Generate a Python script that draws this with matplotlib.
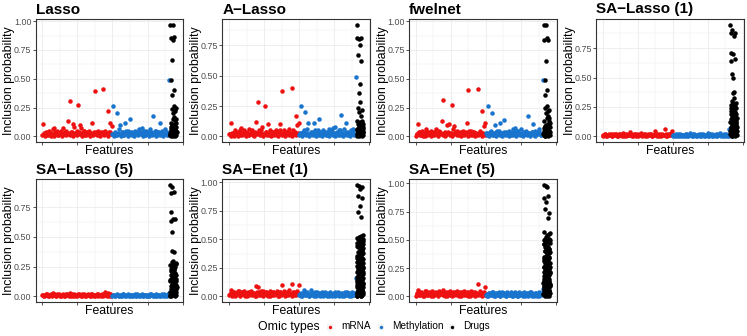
import numpy as np
import matplotlib.pyplot as plt
from matplotlib.patches import Rectangle
from matplotlib.ticker import MultipleLocator, FormatStrFormatter

plt.rcParams['font.family'] = ['Liberation Sans', 'DejaVu Sans']

# number of features in each omic block (feature index runs mRNA -> methylation -> drugs)
N_MRNA = 2000
N_METH = 1640
N_DRUG = 190

titles = ["Lasso", "A\u2212Lasso", "fwelnet", "SA\u2212Lasso (1)",
          "SA\u2212Lasso (5)", "SA\u2212Enet (1)", "SA\u2212Enet (5)"]
omic_names = ["mRNA", "Methylation", "Drugs"]
omic_colors = ["#EE1111", "#1874CD", "#000000"]

# inclusion probabilities (in %), a thinned sample of each block
lasso_mrna = [11, 2, 4, 1, 5, 3, 0, 6, 7, 2, 5, 1, 3, 4, 7, 2, 5, 3, 13, 31,
              4, 11, 8, 2, 5, 27, 10, 7, 3, 5, 1, 4, 3, 5, 2, 12, 4, 39, 3, 5,
              1, 4, 3, 41, 5, 2, 22, 4, 12, 9]
lasso_meth = [26, 3, 1, 20, 6, 10, 2, 4, 1, 12, 3, 5, 15, 2, 4, 1, 5, 3, 2, 6,
              4, 7, 3, 1, 5, 2, 4, 6, 3, 18, 2, 5, 1, 4, 12, 3, 5, 2, 6, 4, 1, 49]
lasso_drug = [3, 97, 1, 12, 85, 5, 0, 49, 8, 24, 2, 36, 10, 66, 4, 20, 97, 6, 15, 84,
              1, 40, 9, 26, 3, 17, 86, 7, 22, 0, 14, 11, 2, 25, 5, 15, 8, 1, 12, 4]

alasso_mrna = [2, 11, 3, 0, 5, 2, 4, 1, 7, 3, 5, 2, 4, 1, 6, 3, 5, 2, 4, 12,
               28, 3, 5, 8, 2, 25, 4, 10, 1, 5, 3, 4, 2, 5, 1, 4, 10, 37, 3, 5,
               2, 4, 6, 3, 40, 5, 2, 17, 9, 11]
alasso_meth = [3, 25, 2, 5, 20, 6, 11, 1, 4, 2, 11, 5, 3, 1, 14, 4, 2, 5, 3, 1,
               4, 6, 2, 5, 7, 3, 8, 4, 1, 5, 18, 3, 6, 2, 11, 4, 1, 5, 3, 6, 2, 49]
alasso_drug = [2, 92, 6, 13, 81, 1, 67, 10, 23, 4, 80, 0, 36, 8, 20, 3, 75, 12, 43, 5,
               28, 1, 62, 9, 17, 3, 81, 7, 22, 0, 13, 11, 2, 6, 10, 4, 1, 8]

fwel_mrna = [2, 11, 4, 1, 5, 3, 0, 6, 4, 2, 5, 1, 3, 4, 6, 2, 5, 3, 13, 32,
             4, 2, 10, 11, 3, 27, 6, 9, 3, 5, 1, 4, 3, 5, 2, 4, 12, 40, 3, 5,
             1, 4, 3, 2, 41, 5, 3, 22, 9, 12]
fwel_meth = [3, 26, 2, 5, 20, 1, 10, 4, 2, 5, 12, 3, 1, 14, 4, 2, 5, 3, 1, 6,
             4, 7, 2, 5, 3, 6, 1, 4, 2, 5, 18, 3, 1, 4, 11, 5, 2, 4, 6, 3, 1, 49]
fwel_drug = [3, 97, 1, 13, 84, 5, 0, 49, 8, 25, 2, 36, 10, 65, 4, 20, 97, 6, 16, 85,
             1, 40, 9, 26, 3, 18, 84, 7, 22, 0, 16, 11, 2, 23, 5, 13, 8, 1, 12, 4]

sal1_mrna = [1, 2, 0, 1, 2, 1, 0, 2, 1, 2, 0, 1, 2, 1, 3, 0, 1, 2, 1, 4,
             1, 0, 2, 1, 2, 0, 1, 3, 1, 2, 0, 1, 2, 1, 2, 0, 1, 5, 1, 2,
             0, 1, 2, 1, 6, 0, 2, 1, 3, 5]
sal1_meth = [1, 0, 2, 1, 0, 2, 1, 0, 1, 2, 0, 1, 3, 1, 0, 2, 1, 0, 1, 2,
             0, 1, 2, 0, 1, 3, 0, 1, 2, 0, 1, 2, 0, 1, 3, 1, 0, 2, 1, 0, 1, 6]
sal1_drug = [5, 95, 12, 27, 1, 88, 19, 8, 71, 24, 3, 64, 15, 30, 0, 90, 10, 22, 53, 6,
             17, 37, 2, 28, 14, 70, 9, 25, 4, 50, 20, 11, 33, 1, 85, 16, 7, 23, 38, 13,
             3, 66, 21, 9, 18, 0, 88, 26, 6, 12, 2, 19, 14, 7, 24, 4, 11, 16, 1, 8]

sal5_mrna = [1, 0, 2, 1, 0, 1, 2, 3, 1, 0, 2, 1, 0, 1, 2, 0, 1, 2, 1, 3,
             0, 1, 2, 0, 1, 2, 1, 0, 2, 1, 0, 1, 2, 1, 0, 2, 1, 0, 1, 2,
             1, 0, 2, 1, 4, 1, 3, 0, 2, 1]
sal5_meth = [1, 0, 1, 2, 0, 1, 0, 2, 1, 0, 1, 2, 0, 1, 0, 1, 2, 0, 1, 0,
             1, 2, 0, 1, 0, 1, 0, 2, 1, 0, 1, 2, 0, 1, 0, 1, 2, 1, 0, 1, 2, 3]
sal5_drug = [4, 94, 13, 26, 0, 87, 18, 9, 71, 23, 2, 63, 15, 29, 1, 92, 10, 21, 54, 6,
             17, 38, 3, 27, 12, 65, 8, 24, 5, 30, 19, 11, 37, 1, 88, 16, 7, 22, 14, 3,
             65, 20, 9, 25, 0, 12, 2, 18, 6, 28, 13, 4, 10, 15, 1, 8]

sen1_mrna = [2, 6, 1, 4, 0, 3, 5, 1, 4, 2, 5, 0, 3, 4, 1, 5, 2, 3, 0, 9,
             8, 4, 1, 3, 5, 2, 4, 0, 3, 5, 1, 4, 2, 3, 5, 0, 4, 10, 2, 5,
             1, 3, 6, 2, 11, 4, 1, 3, 5, 10]
sen1_meth = [2, 0, 3, 6, 1, 4, 2, 0, 6, 3, 1, 4, 0, 2, 3, 1, 4, 0, 2, 3,
             1, 0, 4, 2, 1, 3, 0, 2, 4, 1, 3, 0, 2, 4, 1, 3, 0, 2, 4, 1, 3, 16]
sen1_drug = [0, 3, 17, 98, 34, 21, 51, 8, 13, 14, 30, 0, 47, 27, 9, 88, 11, 26, 5, 43,
             18, 5, 2, 22, 24, 74, 39, 9, 1, 15, 18, 1, 35, 97, 29, 52, 6, 14, 12, 31,
             20, 48, 4, 10, 16, 27, 79, 10, 44, 25, 6, 7, 23, 13, 40, 94, 2, 2, 22, 19,
             36, 17, 53, 0, 15, 26, 32, 70, 8, 49, 19, 11, 3, 28, 11, 45, 86, 28, 7, 5,
             24, 14, 41, 1, 3, 23, 20, 96, 9, 37, 6, 54, 16, 33, 50, 12, 29, 46, 8, 25,
             42, 4, 21, 38]

sen5_mrna = [3, 6, 1, 4, 2, 0, 5, 3, 1, 4, 2, 5, 0, 3, 4, 1, 5, 2, 3, 6,
             1, 4, 0, 3, 5, 2, 4, 1, 3, 5, 0, 4, 2, 3, 5, 1, 4, 2, 0, 5,
             3, 1, 4, 2, 11, 5, 1, 3, 4, 8]
sen5_meth = [2, 0, 3, 1, 4, 2, 0, 3, 1, 4, 0, 2, 3, 1, 0, 4, 2, 1, 3, 0,
             2, 4, 1, 0, 3, 2, 1, 4, 0, 2, 3, 1, 4, 0, 2, 1, 3, 0, 4, 2, 1, 7]
sen5_drug = [2, 57, 18, 99, 35, 22, 50, 9, 14, 13, 31, 1, 46, 26, 8, 87, 12, 27, 4, 44,
             19, 6, 3, 21, 23, 77, 40, 10, 0, 16, 17, 2, 36, 98, 28, 53, 5, 15, 11, 32,
             21, 49, 3, 9, 17, 26, 84, 11, 45, 24, 7, 6, 22, 12, 41, 97, 1, 3, 20, 18,
             37, 16, 54, 0, 14, 25, 33, 69, 7, 48, 20, 10, 4, 29, 12, 43, 89, 27, 8, 4,
             25, 13, 42, 2, 5, 24, 19, 74, 8, 38, 5, 55, 15, 34, 51, 11, 30, 47, 9, 26,
             39, 3, 22, 56]

# further low-probability features that make up the dense bands (in %)
lasso_mrna_low = [1, 3, 0, 2, 4, 1, 3, 2, 0, 4, 2, 1, 3, 5, 0, 2, 4, 1, 3, 2,
                  1, 4, 0, 3, 2, 1, 4, 2, 0, 3, 5, 1, 2, 4, 0, 3, 1, 2, 4, 1,
                  3, 0, 2, 4, 1, 3, 2, 0, 4, 2]
lasso_meth_low = [2, 0, 4, 1, 3, 2, 0, 4, 1, 3, 5, 0, 2, 4, 1, 3, 0, 2, 4, 1,
                  3, 2, 0, 5, 1, 3, 2, 0, 4, 1, 3, 5, 0, 2, 4, 1, 3, 0, 2, 4, 1, 3]
alasso_mrna_low = [2, 0, 3, 1, 4, 2, 0, 3, 5, 1, 2, 4, 0, 3, 1, 2, 4, 1, 0, 3,
                   2, 5, 1, 3, 0, 2, 4, 1, 3, 2, 0, 4, 1, 3, 2, 0, 5, 2, 1, 3,
                   0, 4, 2, 1, 3, 0, 2, 4, 1, 3]
alasso_meth_low = [1, 3, 0, 4, 2, 1, 3, 0, 2, 4, 1, 3, 0, 2, 5, 1, 3, 0, 2, 4,
                   1, 3, 0, 2, 4, 1, 0, 3, 2, 5, 1, 3, 0, 2, 4, 1, 3, 0, 2, 4, 1, 2]
fwel_mrna_low = [0, 2, 4, 1, 3, 0, 2, 5, 1, 3, 2, 0, 4, 1, 3, 2, 0, 4, 2, 1,
                 3, 0, 2, 4, 1, 3, 0, 2, 4, 1, 2, 3, 0, 4, 1, 2, 3, 0, 5, 1,
                 2, 4, 0, 3, 1, 2, 4, 0, 3, 1]
fwel_meth_low = [3, 1, 0, 4, 2, 1, 3, 0, 5, 2, 1, 3, 0, 4, 2, 1, 3, 0, 2, 4,
                 1, 3, 0, 5, 2, 1, 3, 0, 4, 2, 1, 3, 0, 2, 4, 1, 0, 3, 2, 4, 1, 2]
sal1_mrna_low = [0, 1, 2, 0, 1, 1, 2, 0, 1, 2, 1, 0, 2, 1, 0, 1, 2, 0, 1, 1,
                 2, 0, 1, 2, 0, 1, 1, 2, 0, 1, 2, 1, 0, 1, 2, 0, 1, 1, 2, 0,
                 1, 2, 0, 1, 1, 2, 0, 1, 2, 1]
sal1_meth_low = [0, 1, 1, 0, 2, 1, 0, 1, 1, 0, 2, 0, 1, 1, 0, 2, 1, 0, 1, 1,
                 0, 2, 1, 0, 1, 1, 0, 2, 1, 0, 1, 1, 0, 2, 1, 0, 1, 1, 0, 2, 1, 0]
sal5_mrna_low = [1, 0, 1, 2, 0, 1, 1, 0, 2, 1, 0, 1, 2, 0, 1, 1, 0, 2, 1, 0,
                 1, 2, 0, 1, 1, 0, 2, 1, 0, 1, 2, 0, 1, 1, 0, 2, 1, 0, 1, 2,
                 0, 1, 1, 0, 2, 1, 0, 1, 2, 0]
sal5_meth_low = [0, 1, 0, 1, 1, 0, 1, 0, 2, 1, 0, 1, 0, 1, 1, 0, 1, 0, 2, 1,
                 0, 1, 0, 1, 1, 0, 1, 0, 2, 1, 0, 1, 0, 1, 1, 0, 1, 0, 2, 1, 0, 1]
sen1_mrna_low = [1, 3, 0, 4, 2, 1, 3, 5, 0, 2, 4, 1, 3, 0, 2, 4, 1, 3, 2, 0,
                 4, 1, 3, 5, 0, 2, 4, 1, 3, 0, 2, 4, 1, 3, 2, 0, 4, 1, 3, 2,
                 0, 4, 1, 3, 2, 0, 4, 2, 1, 3]
sen1_meth_low = [1, 3, 0, 2, 4, 1, 3, 0, 2, 1, 3, 0, 2, 4, 1, 0, 3, 2, 1, 4,
                 0, 2, 3, 1, 0, 2, 4, 1, 3, 0, 2, 1, 3, 0, 2, 4, 1, 3, 0, 2, 1, 3]
sen5_mrna_low = [0, 2, 4, 1, 3, 0, 2, 5, 1, 3, 2, 0, 4, 1, 3, 2, 0, 4, 2, 1,
                 3, 0, 2, 4, 1, 3, 0, 2, 4, 1, 2, 3, 0, 4, 1, 2, 3, 0, 4, 1,
                 2, 4, 0, 3, 1, 2, 4, 0, 3, 1]
sen5_meth_low = [1, 0, 3, 2, 1, 4, 0, 2, 3, 1, 0, 2, 4, 1, 3, 0, 2, 1, 4, 0,
                 3, 1, 2, 0, 4, 1, 3, 0, 2, 1, 3, 0, 2, 4, 1, 0, 3, 2, 1, 0, 2, 3]
sal1_drug_low = [2, 15, 7, 22, 0, 11, 26, 4, 18, 9, 13, 1, 24, 6, 20, 3, 16, 10, 28, 5]
sal5_drug_low = [1, 14, 6, 21, 0, 10, 25, 3, 17, 8, 12, 2, 23, 5, 19, 4, 15, 9, 27, 7]
sen1_drug_low = [10, 35, 3, 27, 44, 16, 6, 50, 21, 31, 1, 39, 13, 47, 25, 8, 33, 19, 42, 4,
                 29, 12, 52, 22, 37, 0, 17, 45, 9, 30, 24, 41, 5, 15, 34, 2, 26, 49, 11, 20]
sen5_drug_low = [12, 33, 5, 26, 46, 15, 7, 51, 20, 30, 2, 40, 14, 48, 24, 9, 34, 18, 43, 3,
                 28, 11, 53, 23, 38, 1, 16, 44, 8, 31, 25, 42, 6, 14, 35, 0, 27, 50, 10, 21]
lasso_drug_low = [1, 6, 3, 9, 0, 5, 11, 2, 7, 4]
alasso_drug_low = [0, 5, 2, 8, 1, 6, 10, 3, 7, 4]
fwel_drug_low = [2, 7, 0, 9, 4, 1, 6, 11, 3, 5]

panels = [
    (lasso_mrna, lasso_meth, lasso_drug),
    (alasso_mrna, alasso_meth, alasso_drug),
    (fwel_mrna, fwel_meth, fwel_drug),
    (sal1_mrna, sal1_meth, sal1_drug),
    (sal5_mrna, sal5_meth, sal5_drug),
    (sen1_mrna, sen1_meth, sen1_drug),
    (sen5_mrna, sen5_meth, sen5_drug),
]
panels_low = [
    (lasso_mrna_low, lasso_meth_low, lasso_drug_low),
    (alasso_mrna_low, alasso_meth_low, alasso_drug_low),
    (fwel_mrna_low, fwel_meth_low, fwel_drug_low),
    (sal1_mrna_low, sal1_meth_low, sal1_drug_low),
    (sal5_mrna_low, sal5_meth_low, sal5_drug_low),
    (sen1_mrna_low, sen1_meth_low, sen1_drug_low),
    (sen5_mrna_low, sen5_meth_low, sen5_drug_low),
]

block_start = [0, N_MRNA, N_MRNA + N_METH]
block_size = [N_MRNA, N_METH, N_DRUG]
n_total = N_MRNA + N_METH + N_DRUG


def feature_pos(vals, start, n, offset=0.5):
    # spread the sampled features evenly over their block of feature indices
    return start + (np.arange(len(vals)) + offset) * n / len(vals)


W, H = 747, 336
fig = plt.figure(figsize=(W / 100, H / 100), dpi=100)
cell_w = W / 4
pw, ph = 147.6, 123
row_top = [19, 179]
title_base = [13.5, 173.7]
xlab_base = [154.3, 314.3]

for k, (title, blocks, lows) in enumerate(zip(titles, panels, panels_low)):
    r, c = divmod(k, 4)
    left = c * cell_w + 35.7
    top = row_top[r]
    ax = fig.add_axes([left / W, 1 - (top + ph) / H, pw / W, ph / H])

    for vals, low, st, n, col in zip(blocks, lows, block_start, block_size, omic_colors):
        ax.scatter(feature_pos(low, st, n, 0.0), np.array(low) / 100,
                   s=10.5, color=col, linewidths=0, zorder=3)
        ax.scatter(feature_pos(vals, st, n), np.array(vals) / 100,
                   s=10.5, color=col, linewidths=0, zorder=3)

    pad = 0.05 * (n_total - 1)
    ax.set_xlim(1 - pad, n_total + pad)
    ax.margins(y=0.05)

    ax.xaxis.set_major_locator(MultipleLocator(1000))
    ax.xaxis.set_minor_locator(MultipleLocator(500))
    ax.yaxis.set_major_locator(MultipleLocator(0.25))
    ax.yaxis.set_minor_locator(MultipleLocator(0.125))
    ax.yaxis.set_major_formatter(FormatStrFormatter('%.2f'))
    ax.tick_params(which='major', length=2.0, width=0.6, color='#333333',
                   labelsize=6.4, labelcolor='#4D4D4D', pad=1)
    ax.tick_params(which='minor', length=0)
    ax.tick_params(axis='x', labelbottom=False)
    ax.grid(which='major', color='#EBEBEB', lw=0.6)
    ax.grid(which='minor', color='#EBEBEB', lw=0.3)
    ax.set_axisbelow(True)
    for sp in ax.spines.values():
        sp.set_color('#333333')
        sp.set_linewidth(0.8)

    fig.text(left / W, 1 - title_base[r] / H, title, fontsize=11,
             fontweight='bold', ha='left', va='baseline')
    fig.text((c * cell_w + 9.3) / W, 1 - (top + ph / 2) / H,
             "Inclusion probability", fontsize=8.8, rotation=90,
             ha='center', va='center')
    fig.text((left + pw / 2) / W, 1 - xlab_base[r] / H, "Features",
             fontsize=8.8, ha='center', va='baseline')

# legend along the bottom
lax = fig.add_axes([0, 0, 1, 1])
lax.set_xlim(0, W)
lax.set_ylim(H, 0)
lax.axis('off')
lax.text(257.7, 330.3, "Omic types", fontsize=8.8, ha='left', va='baseline')
key_x = [330, 380.7, 451.7]
for kx, name, col in zip(key_x, omic_names, omic_colors):
    lax.add_patch(Rectangle((kx - 3, 323.5), 6, 6, facecolor='#F2F2F2',
                            edgecolor='none'))
    lax.plot([kx], [326.5], 'o', color=col, markersize=2.4, markeredgewidth=0)
    lax.text(kx + 11, 329.3, name, fontsize=7.2, ha='left', va='baseline')

fig.savefig("out.png", dpi=100)
